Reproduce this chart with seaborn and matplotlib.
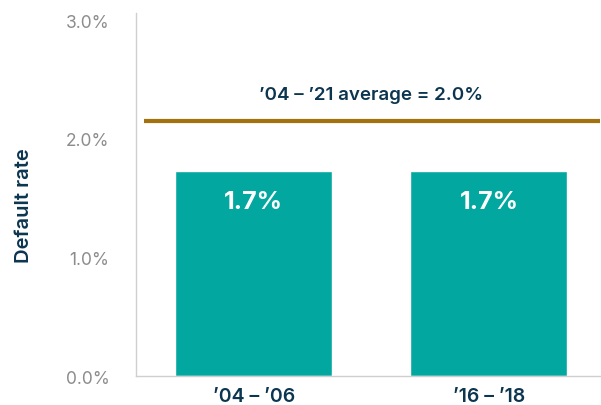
import pandas as pd
import seaborn as sns
import matplotlib.pyplot as plt

# data
periods = ["\u201904 \u2013 \u201906", "\u201916 \u2013 \u201918"]
default_rates = [1.73, 1.73]
bar_labels = ["1.7%", "1.7%"]
avg_rate = 2.15
avg_label = "\u201904 \u2013 \u201921 average = 2.0%"
y_ticks = [0.0, 1.0, 2.0, 3.0]

teal = "#02A89F"
gold = "#A2720F"
navy = "#0C3550"
grey_text = "#8C8C8C"

sns.set_style("white")
plt.rcParams["font.family"] = ["Inter", "DejaVu Sans"]

df = pd.DataFrame({"Period": periods, "Rate": default_rates})

fig = plt.figure(figsize=(6.01, 4.06), dpi=100)
ax = fig.add_axes([0.2263, 0.0714, 0.779, 0.894])

sns.barplot(x="Period", y="Rate", data=df, color=teal, width=0.667,
            saturation=1, ax=ax)

# bar value labels inside the bars
for i, (v, lab) in enumerate(zip(default_rates, bar_labels)):
    ax.annotate(lab, (i, v), xytext=(0, -31), textcoords="offset pixels",
                ha="center", va="center", color="white",
                fontsize=18, fontweight="bold")

# average line and its label
ax.hlines(avg_rate, -0.466, 1.474, color=gold, linewidth=3)
ax.annotate(avg_label, (0.5, avg_rate), xytext=(0, 26), textcoords="offset pixels",
            ha="center", va="center", color=navy, fontsize=13.5, fontweight="semibold")

ax.set_xlim(-0.5, 1.49)
ax.set_ylim(0, 3.06)
ax.set_yticks(y_ticks)
ax.set_yticklabels([f"{t:.1f}%" for t in y_ticks], color=grey_text,
                   fontsize=12.5)
ax.tick_params(axis="y", length=0, pad=19)
ax.tick_params(axis="x", length=0, pad=8, labelcolor=navy, labelsize=14)
for t in ax.get_xticklabels():
    t.set_fontweight("semibold")

ax.set_xlabel("")
ax.set_ylabel("Default rate", color=navy, fontsize=14.5, fontweight="semibold")
ax.yaxis.set_label_coords(-0.22, 0.471)

sns.despine(ax=ax, top=True, right=True)
for side in ["left", "bottom"]:
    ax.spines[side].set_color("#CFCFCF")
    ax.spines[side].set_linewidth(1)

fig.savefig("out.png", dpi=100)
